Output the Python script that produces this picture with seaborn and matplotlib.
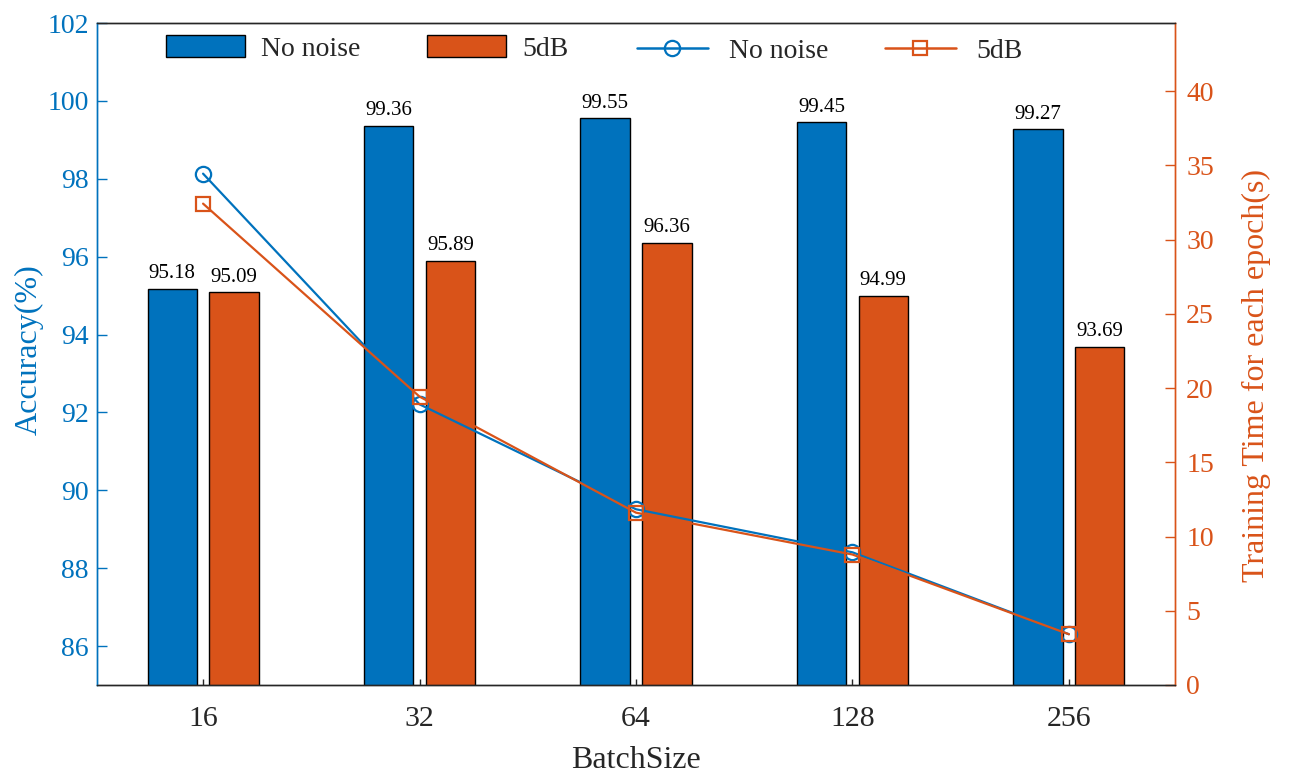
import numpy as np
import pandas as pd
import matplotlib
matplotlib.use("Agg")
import matplotlib.pyplot as plt
import seaborn as sns
from matplotlib.lines import Line2D
from matplotlib.patches import Patch

# data
batch_sizes = ["16", "32", "64", "128", "256"]
groups = ["No noise", "5dB"]
acc_no_noise = [95.18, 99.36, 99.55, 99.45, 99.27]
acc_5db = [95.09, 95.89, 96.36, 94.99, 93.69]
time_no_noise = [34.45, 18.91, 11.84, 8.94, 3.42]
time_5db = [32.43, 19.43, 11.61, 8.79, 3.42]

blue = "#0072BD"
orange = "#D95319"
dark = "#262626"

sns.set_theme(style="white")
plt.rcParams["font.family"] = ["Liberation Serif", "DejaVu Serif"]

bars = pd.DataFrame({
    "batch": batch_sizes * 2,
    "noise": [groups[0]] * 5 + [groups[1]] * 5,
    "acc": acc_no_noise + acc_5db,
})

fig = plt.figure(figsize=(12.9, 7.83), dpi=100)
ax = fig.add_axes([97 / 1290, 1 - 685 / 783, (1175 - 97) / 1290, (685 - 23) / 783])

sns.barplot(data=bars, x="batch", y="acc", hue="noise", palette=[blue, orange],
            width=0.57, gap=0.2, edgecolor="black", linewidth=1.0,
            saturation=1, legend=False, ax=ax)
for cont in ax.containers:
    ax.bar_label(cont, fmt="%.2f", padding=4, fontsize=15, color="black")

ax.set_ylim(85, 102)
ax.set_yticks(np.arange(86, 103, 2))
ax.set_xlim(-0.49, 4.49)
ax.set_ylabel("Accuracy(%)", fontsize=23, color=blue)
ax.yaxis.set_label_coords(-0.049, 0.506)
ax.set_xlabel("BatchSize", fontsize=23, color=dark, labelpad=10)
ax.tick_params(axis="y", direction="in", length=7, width=1, colors=blue,
               labelsize=20, pad=6, left=True)
ax.tick_params(axis="x", direction="in", length=4, width=1, colors=dark,
               labelsize=21.5, pad=15, bottom=True)

# training time on the right axis
ax2 = ax.twinx()
pos = np.arange(len(batch_sizes))
sns.lineplot(x=pos, y=time_no_noise, color=blue, marker="o", markersize=11,
             markerfacecolor="none", markeredgecolor=blue, markeredgewidth=1.6,
             linewidth=1.6, errorbar=None, ax=ax2)
sns.lineplot(x=pos, y=time_5db, color=orange, marker="s", markersize=10,
             markerfacecolor="none", markeredgecolor=orange, markeredgewidth=1.6,
             linewidth=1.6, errorbar=None, ax=ax2)
ax2.set_ylim(0, 44.6)
ax2.set_yticks(np.arange(0, 41, 5))
ax2.set_ylabel("Training Time for each epoch(s)", fontsize=23, color=orange)
ax2.yaxis.set_label_coords(1.062, 0.468)
ax2.tick_params(axis="y", direction="in", length=7, width=1, colors=orange,
                labelsize=20, pad=8, right=True)
ax2.set_xlim(-0.49, 4.49)

for a in (ax, ax2):
    for s in a.spines.values():
        s.set_linewidth(1.0)
    a.spines["top"].set_color(dark)
    a.spines["bottom"].set_color(dark)
    a.spines["left"].set_color(blue)
    a.spines["right"].set_color(orange)

# legends along the top
bar_handles = [Patch(facecolor=blue, edgecolor="black", linewidth=1),
               Patch(facecolor=orange, edgecolor="black", linewidth=1)]
leg1 = ax2.legend(bar_handles, groups, ncol=2, frameon=False, fontsize=20,
                  handlelength=2.85, handleheight=0.85, handletextpad=0.58,
                  columnspacing=2.4, borderpad=0, borderaxespad=0,
                  loc="center left", bbox_to_anchor=(166 / 1290, 1 - 48.5 / 783),
                  bbox_transform=fig.transFigure)
ax2.add_artist(leg1)
line_handles = [Line2D([], [], color=blue, marker="o", markersize=11,
                       markerfacecolor="none", markeredgewidth=1.6, linewidth=1.8),
                Line2D([], [], color=orange, marker="s", markersize=10,
                       markerfacecolor="none", markeredgewidth=1.6, linewidth=1.8)]
ax2.legend(line_handles, groups, ncol=2, frameon=False, fontsize=20,
           handlelength=2.55, handletextpad=0.75, columnspacing=2.05,
           borderpad=0, borderaxespad=0,
           loc="center left", bbox_to_anchor=(637 / 1290, 1 - 51 / 783),
           bbox_transform=fig.transFigure)

fig.savefig("out.png", dpi=100)
